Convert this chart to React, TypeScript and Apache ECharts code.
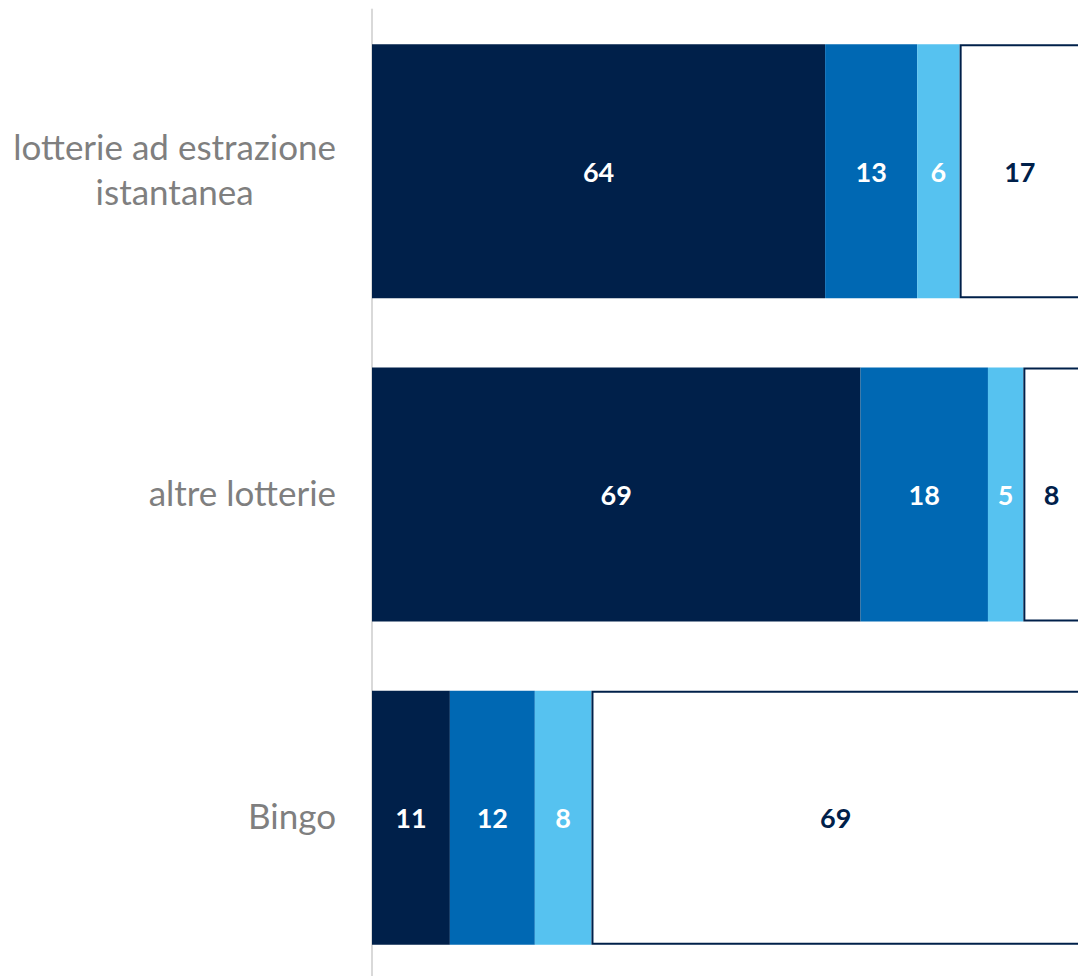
import React, { useEffect, useRef } from "react";
import * as echarts from "echarts";

const categories = ["lotterie ad estrazione\nistantanea", "altre lotterie", "Bingo"];
const seriesNames = ["s1", "s2", "s3", "s4"];
const values1 = [64, 69, 11];
const values2 = [13, 18, 12];
const values3 = [6, 5, 8];
const values4 = [17, 8, 69];

const NAVY = "#00204A";
const BLUE = "#0068B3";
const LIGHT = "#56C2F0";

export default function App() {
  const ref = useRef<HTMLDivElement>(null);
  useEffect(() => {
    if (!ref.current) return;
    const chart = echarts.init(ref.current, null, { renderer: "svg" });
    const labelBase = {
      show: true,
      position: "inside",
      fontFamily: "Lato",
      fontWeight: "bold",
      fontSize: 27,
    };
    const mk = (name: string, data: number[], color: string, labelColor: string, border?: boolean) => ({
      name,
      type: "bar",
      stack: "total",
      data,
      barWidth: 254,
      itemStyle: border
        ? { color: "#ffffff", borderColor: NAVY, borderWidth: 2 }
        : { color },
      label: { ...labelBase, color: labelColor },
      emphasis: { disabled: true },
    });
    chart.setOption({
      animation: false,
      grid: {
        left: 372,
        top: 9.5,
        width: 708,
        height: 970,
        containLabel: false,
        outerBoundsMode: "none",
      },
      xAxis: {
        type: "value",
        min: 0,
        max: 100,
        show: false,
      },
      yAxis: {
        type: "category",
        inverse: true,
        data: categories,
        axisLine: { show: true, lineStyle: { color: "#D9D9D9", width: 2 } },
        axisTick: { show: false },
        axisLabel: {
          margin: 36,
          color: "#7F7F7F",
          fontFamily: "Lato",
          fontSize: 35,
          lineHeight: 45,
          padding: [0, 0, 6, 0],
          formatter: (v: string) => v.split("\n").map((l) => `{c|${l}}`).join("\n"),
          rich: {
            c: {
              align: "center",
              color: "#7F7F7F",
              fontFamily: "Lato",
              fontSize: 35,
              lineHeight: 45,
            },
          },
        },
      },
      series: [
        mk(seriesNames[0], values1, NAVY, "#ffffff"),
        mk(seriesNames[1], values2, BLUE, "#ffffff"),
        mk(seriesNames[2], values3, LIGHT, "#ffffff"),
        mk(seriesNames[3], values4, "#ffffff", NAVY, true),
      ],
    });
    return () => chart.dispose();
  }, []);
  return (
    <div
      ref={ref}
      style={{ position: "fixed", left: 0, top: 0, width: 1078, height: 976, background: "#ffffff" }}
    />
  );
}
